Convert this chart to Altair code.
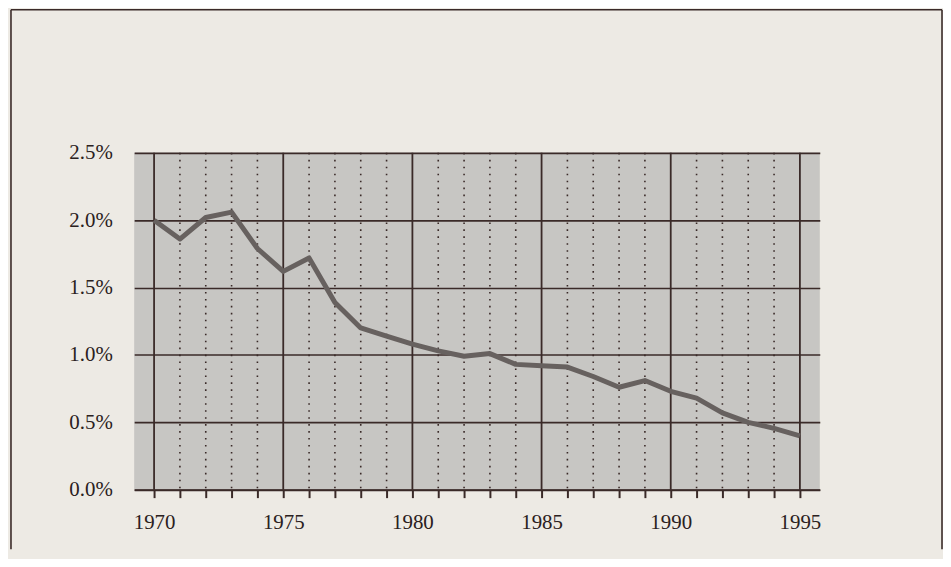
import altair as alt
import pandas as pd

years = list(range(1970, 1996))
values = [2.00, 1.86, 2.02, 2.06, 1.79, 1.62, 1.72, 1.39, 1.20, 1.14,
          1.08, 1.03, 0.99, 1.01, 0.93, 0.92, 0.91, 0.84, 0.76, 0.81,
          0.73, 0.68, 0.57, 0.50, 0.455, 0.40]
y_ticks = [0.0, 0.5, 1.0, 1.5, 2.0, 2.5]
major_years = [y for y in years if y % 5 == 0]
minor_years = [y for y in years if y % 5 != 0]

DARK = "#3a2a28"
FONT = "Liberation Serif"

df = pd.DataFrame({"year": years, "share": values})
xscale = alt.Scale(domain=[1969.23, 1995.77], nice=False, zero=False)
yscale = alt.Scale(domain=[0, 2.5], nice=False)

x_axis = alt.Axis(
    values=years, grid=False, domain=True, domainColor=DARK, domainWidth=2,
    ticks=True, tickColor=DARK, tickWidth=2, tickSize=8,
    labelExpr="datum.value % 5 == 0 ? format(datum.value, 'd') : ''",
    labelFont=FONT, labelFontSize=21, labelColor="#2a2020", labelPadding=14,
    title=None, labelFlush=False, labelOverlap=False,
)
y_axis = alt.Axis(
    values=y_ticks, grid=True, gridColor=DARK, gridWidth=1.6, gridOpacity=1,
    domain=False, ticks=False,
    labelExpr="format(datum.value, '.1f') + '%'",
    labelFont=FONT, labelFontSize=21, labelColor="#2a2020", labelPadding=22,
    title=None,
)

minor = alt.Chart(pd.DataFrame({"year": minor_years})).mark_rule(
    color=DARK, strokeWidth=1.6, strokeDash=[1.6, 5.4]
).encode(x=alt.X("year:Q", scale=xscale, axis=x_axis))

major = alt.Chart(pd.DataFrame({"year": major_years})).mark_rule(
    color=DARK, strokeWidth=1.8
).encode(x=alt.X("year:Q", scale=xscale, axis=x_axis))

line = alt.Chart(df).mark_line(
    color="#67615f", strokeWidth=5, strokeJoin="round"
).encode(
    x=alt.X("year:Q", scale=xscale, axis=x_axis),
    y=alt.Y("share:Q", scale=yscale, axis=y_axis),
)

one = pd.DataFrame({"f": [0]})
frame_style = dict(color=DARK, strokeWidth=1.6, clip=False)
frame_left = alt.Chart(one).mark_rule(**frame_style).encode(
    x=alt.value(-124), y=alt.value(-144), y2=alt.value(399))
frame_right = alt.Chart(one).mark_rule(**frame_style).encode(
    x=alt.value(813), y=alt.value(-144), y2=alt.value(399))
frame_top = alt.Chart(one).mark_rule(**frame_style).encode(
    x=alt.value(-124), x2=alt.value(813), y=alt.value(-144))

chart = alt.layer(minor, major, line, frame_left, frame_right, frame_top).properties(
    width=690, height=339,
    autosize=alt.AutoSizeParams(type="none"),
    padding={"left": 127, "top": 144, "right": 124, "bottom": 68},
    background="#edeae4",
).configure_view(fill="#c7c6c3", stroke=None)

chart.save("out.html", embed_options={"renderer": "svg", "actions": False})
